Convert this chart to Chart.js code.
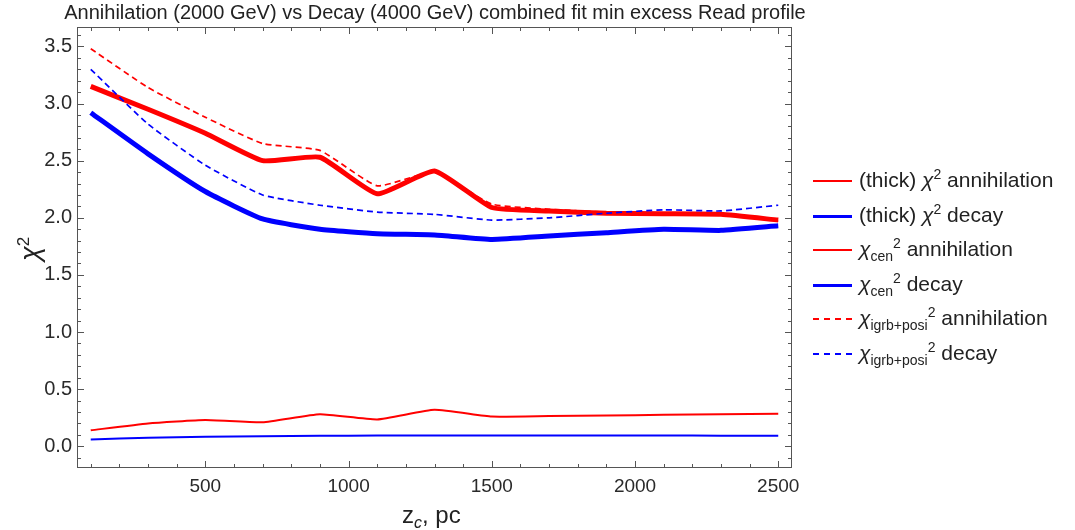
<!DOCTYPE html>
<html>
<head>
<meta charset="utf-8">
<script src="https://cdn.jsdelivr.net/npm/chart.js@4"></script>
<style>
  html, body { margin: 0; padding: 0; background: #fff; }
  #wrap { position: relative; width: 1075px; height: 530px; font-family: "Liberation Sans", Arial, sans-serif; color: #222; }
  #c { position: absolute; left: 0; top: 0; }
  #title { position: absolute; left: 0; width: 870px; top: 1px; text-align: center; font-size: 20px; white-space: nowrap; color: #222; }
  .legend { position: absolute; left: 813px; top: 163px; font-size: 21px; }
  .row { position: absolute; left: 0; height: 34.5px; width: 262px; white-space: nowrap; }
  .sw { position: absolute; left: 0; width: 39px; top: 50%; }
  .lab { position: absolute; left: 46px; top: 50%; transform: translateY(-54%); }
  .gk { font-style: italic; }
  .sub { font-size: 14px; position: relative; top: 5px; }
  sup { font-size: 14px; }
  #ytitle { position: absolute; left: 10px; top: 233px; font-size: 27px; transform: rotate(-90deg); transform-origin: center; width: 40px; text-align: center; }
  #xtitle { position: absolute; left: 402px; top: 501px; font-size: 24px; white-space: nowrap; }
</style>
</head>
<body>
<div id="wrap">
<canvas id="c" width="1075" height="530"></canvas>
<div id="title">Annihilation (2000 GeV) vs Decay (4000 GeV) combined fit min excess Read profile</div>
<div id="ytitle"><span class="gk">χ</span><sup style="font-size:17px">2</sup></div>
<div id="xtitle">z<i style="font-size:16px;position:relative;top:5px">c</i>, pc</div>
<div class="legend">
  <div class="row" style="top:0px"><div class="sw" style="border-top:2px solid #ff0000"></div><div class="lab">(thick) <span class="gk">χ</span><sup>2</sup> annihilation</div></div>
  <div class="row" style="top:34.5px"><div class="sw" style="border-top:3px solid #0000ff"></div><div class="lab">(thick) <span class="gk">χ</span><sup>2</sup> decay</div></div>
  <div class="row" style="top:69px"><div class="sw" style="border-top:2px solid #ff0000"></div><div class="lab"><span class="gk">χ</span><span class="sub">cen</span><sup>2</sup> annihilation</div></div>
  <div class="row" style="top:103.5px"><div class="sw" style="border-top:3px solid #0000ff"></div><div class="lab"><span class="gk">χ</span><span class="sub">cen</span><sup>2</sup> decay</div></div>
  <div class="row" style="top:138px"><div class="sw" style="border-top:2px dashed #ff0000"></div><div class="lab"><span class="gk">χ</span><span class="sub">igrb+posi</span><sup>2</sup> annihilation</div></div>
  <div class="row" style="top:172.5px"><div class="sw" style="border-top:2px dashed #0000ff"></div><div class="lab"><span class="gk">χ</span><span class="sub">igrb+posi</span><sup>2</sup> decay</div></div>
</div>
</div>
<script>
const zc = [100, 300, 500, 700, 900, 1100, 1300, 1500, 1700, 1900, 2100, 2300, 2500];
const thickAnn = [3.15, 2.95, 2.74, 2.50, 2.53, 2.21, 2.41, 2.09, 2.06, 2.04, 2.035, 2.03, 1.98];
const thickDec = [2.92, 2.56, 2.23, 1.99, 1.90, 1.86, 1.85, 1.81, 1.84, 1.87, 1.90, 1.89, 1.93];
const cenAnn = [0.14, 0.20, 0.23, 0.21, 0.28, 0.235, 0.32, 0.26, 0.265, 0.27, 0.275, 0.28, 0.285];
const cenDec = [0.06, 0.075, 0.083, 0.088, 0.092, 0.094, 0.095, 0.095, 0.095, 0.095, 0.094, 0.093, 0.092];
const igrbAnn = [3.48, 3.14, 2.88, 2.65, 2.59, 2.28, 2.40, 2.12, 2.075, 2.05, 2.04, 2.03, 1.97];
const igrbDec = [3.30, 2.82, 2.46, 2.20, 2.11, 2.05, 2.03, 1.98, 2.00, 2.04, 2.07, 2.06, 2.11];
const xTicks = [500, 1000, 1500, 2000, 2500];
const yTicks = [0.0, 0.5, 1.0, 1.5, 2.0, 2.5, 3.0, 3.5];

const pts = arr => zc.map((x, i) => ({x: x, y: arr[i]}));

const frame = {
  id: 'frame',
  afterDatasetsDraw(chart) {
    const {ctx, chartArea: a, scales: {x, y}} = chart;
    ctx.save();
    ctx.strokeStyle = '#555';
    ctx.lineWidth = 1;
    ctx.strokeRect(a.left + 0.5, a.top + 0.5, a.right - a.left - 1, a.bottom - a.top - 1);
    ctx.beginPath();
    for (let v = 100; v <= 2500; v += 100) {
      const px = Math.round(x.getPixelForValue(v)) + 0.5;
      const L = (v % 500 === 0) ? 7 : 4;
      ctx.moveTo(px, a.bottom); ctx.lineTo(px, a.bottom - L);
      ctx.moveTo(px, a.top); ctx.lineTo(px, a.top + L);
    }
    for (let k = -1; k <= 36; k++) {
      const v = k / 10;
      const py = Math.round(y.getPixelForValue(v)) + 0.5;
      if (py < a.top || py > a.bottom) continue;
      const L = (k % 5 === 0) ? 7 : 4;
      ctx.moveTo(a.left, py); ctx.lineTo(a.left + L, py);
      ctx.moveTo(a.right, py); ctx.lineTo(a.right - L, py);
    }
    ctx.stroke();
    ctx.restore();
  }
};

const ds = (label, data, color, width, dash, order) => ({
  label, data: pts(data), borderColor: color, backgroundColor: color,
  borderWidth: width, borderDash: dash, pointRadius: 0, tension: 0.15,
  fill: false, order, borderCapStyle: 'butt'
});

new Chart(document.getElementById('c'), {
  type: 'line',
  data: {
    datasets: [
      ds('(thick) χ² annihilation', thickAnn, '#ff0000', 5, [], 6),
      ds('(thick) χ² decay', thickDec, '#0000ff', 5, [], 5),
      ds('χcen² annihilation', cenAnn, '#ff0000', 2, [], 4),
      ds('χcen² decay', cenDec, '#0000ff', 2, [], 3),
      ds('χigrb+posi² annihilation', igrbAnn, '#ff0000', 1.7, [6, 4], 2),
      ds('χigrb+posi² decay', igrbDec, '#0000ff', 1.7, [6, 4], 1)
    ]
  },
  options: {
    responsive: false,
    animation: false,
    layout: { padding: { left: 0, right: 283, top: 27, bottom: 0 } },
    plugins: {
      legend: { display: false },
      tooltip: { enabled: false },
      title: { display: false }
    },
    scales: {
      x: {
        type: 'linear', min: 52, max: 2548,
        grid: { display: false, drawTicks: false },
        border: { display: false },
        afterFit: s => { s.height = 62; },
        afterBuildTicks: s => { s.ticks = xTicks.map(v => ({value: v})); },
        ticks: {
          padding: 7, color: '#2a2a2a',
          font: { family: '"Liberation Sans", Arial, sans-serif', size: 19 },
          callback: v => String(v), maxRotation: 0
        }
      },
      y: {
        type: 'linear', min: -0.19, max: 3.67,
        grid: { display: false, drawTicks: false },
        border: { display: false },
        afterFit: s => { s.width = 77; },
        afterBuildTicks: s => { s.ticks = yTicks.map(v => ({value: v})); },
        ticks: {
          padding: 5, color: '#2a2a2a',
          font: { family: '"Liberation Sans", Arial, sans-serif', size: 20 },
          callback: v => Number(v).toFixed(1)
        }
      }
    }
  },
  plugins: [frame]
});
</script>
</body>
</html>
